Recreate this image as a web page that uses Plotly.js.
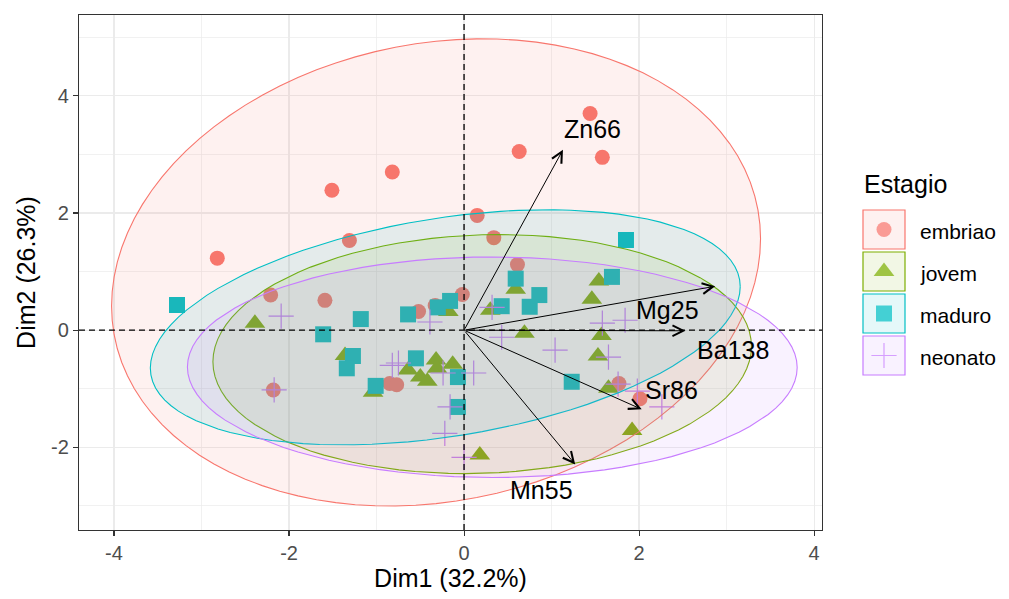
<!DOCTYPE html>
<html><head><meta charset="utf-8">
<script src="https://cdn.plot.ly/plotly-3.0.1.min.js"></script>
<style>body{margin:0;background:#fff}</style>
</head><body>
<div id="chart" style="width:1009px;height:599px"></div>
<script>
// ---------- data ----------
const groups = ['embriao', 'jovem', 'maduro', 'neonato'];
const groupColors = ['#F8766D', '#7CAE00', '#00BFC4', '#C77CFF'];
const groupFills = ['rgba(248,118,109,0.1)', 'rgba(124,174,0,0.1)', 'rgba(0,191,196,0.1)', 'rgba(199,124,255,0.1)'];
const groupSymbols = ['circle', 'triangle-up', 'square', 'cross-thin-open'];
const groupSizes = [15, 18, 16, 18];

const embriaoX = [1.44, 0.63, 1.58, -0.82, -1.51, -2.82, -1.31, 0.15, 0.34, 0.61, -0.02, -2.21, -2.18, -1.59, -0.52, -0.33, -0.85, -0.77, 1.77, 2.01];
const embriaoY = [3.70, 3.05, 2.95, 2.70, 2.39, 1.23, 1.53, 1.96, 1.58, 1.12, 0.61, 0.60, -1.02, 0.51, 0.32, 0.42, -0.91, -0.93, -0.91, -1.17];

const jovemX = [-2.39, -1.36, -1.04, -0.64, -0.50, -0.42, -0.32, -0.31, -0.13, -0.18, 0.30, 0.59, 0.69, 1.54, 1.46, 1.57, 1.53, 1.65, 1.92, 0.18];
const jovemY = [0.12, -0.43, -1.06, -0.68, -0.80, -0.87, -0.51, -0.65, -0.58, 0.32, 0.34, 0.70, -0.05, 0.84, 0.53, -0.09, -0.44, -0.99, -1.71, -2.13];

const maduroX = [-3.28, -1.61, -1.18, -1.27, -1.34, -1.01, -0.64, -0.55, -0.16, -0.30, -0.07, -0.07, 0.59, 0.43, 0.75, 0.86, 1.23, 1.85, 1.69];
const maduroY = [0.43, -0.07, 0.19, -0.44, -0.65, -0.95, 0.27, -0.48, 0.50, 0.39, -0.80, -1.31, 0.88, 0.41, 0.40, 0.60, -0.88, 1.54, 0.91];

const neonatoX = [-2.09, -2.17, -0.82, -0.75, -0.39, -0.24, -0.16, -0.22, 0.00, 0.11, 0.32, 0.43, 1.04, 1.58, 1.84, 1.65, 1.76, 1.98, 2.26];
const neonatoY = [0.24, -1.02, -0.60, -0.56, 0.14, -0.73, -1.31, -1.76, -2.17, -0.73, 0.39, -0.12, -0.34, 0.12, 0.17, -0.46, -0.92, -1.04, -1.31];

const varNames = ['Zn66', 'Mg25', 'Ba138', 'Sr86', 'Mn55'];
const varX = [1.13, 2.87, 2.53, 2.03, 1.27];
const varY = [3.08, 0.75, -0.01, -1.35, -2.29];
const varLabelX = [1.47, 2.32, 3.07, 2.37, 0.89];
const varLabelY = [3.43, 0.34, -0.33, -1.02, -2.72];

const xTickVals = [-4, -2, 0, 2, 4];
const xTickText = ['-4', '-2', '0', '2', '4'];
const yTickVals = [-2, 0, 2, 4];
const yTickText = ['-2', '0', '2', '4'];
const xMinorVals = [-3, -1, 1, 3];
const yMinorVals = [-3, -1, 1, 3, 5];

const xTitle = 'Dim1 (32.2%)';
const yTitle = 'Dim2 (26.3%)';
const legendTitle = 'Estagio';

const groupX = [embriaoX, jovemX, maduroX, neonatoX];
const groupY = [embriaoY, jovemY, maduroY, neonatoY];

// ---------- normal-theory 95% ellipse (as ggplot2 stat_ellipse type="norm") ----------
function qf2(p, d) { return (d / 2) * (Math.pow(1 - p, -2 / d) - 1); }
function ellipse(xs, ys, level, segs) {
  const n = xs.length;
  const mx = xs.reduce((a, b) => a + b, 0) / n;
  const my = ys.reduce((a, b) => a + b, 0) / n;
  let sxx = 0, syy = 0, sxy = 0;
  for (let i = 0; i < n; i++) {
    sxx += (xs[i] - mx) ** 2; syy += (ys[i] - my) ** 2; sxy += (xs[i] - mx) * (ys[i] - my);
  }
  sxx /= n - 1; syy /= n - 1; sxy /= n - 1;
  const a = Math.sqrt(sxx), b = sxy / a, c = Math.sqrt(syy - b * b);
  const r = Math.sqrt(2 * qf2(level, n - 1));
  const ex = [], ey = [];
  for (let k = 0; k <= segs; k++) {
    const t = 2 * Math.PI * k / segs;
    const u = Math.cos(t), v = Math.sin(t);
    ex.push(mx + r * u * a);
    ey.push(my + r * (u * b + v * c));
  }
  return [ex, ey];
}

const traces = [];
groups.forEach((g, i) => {
  const m = { color: groupColors[i], size: groupSizes[i], symbol: groupSymbols[i] };
  if (groupSymbols[i].includes('open')) m.line = { color: groupColors[i], width: 1.2 };
  else m.line = { width: 0 };
  traces.push({ type: 'scatter', mode: 'markers', x: groupX[i], y: groupY[i], name: g,
    marker: m, showlegend: false, hoverinfo: 'skip', cliponaxis: false });
});
groups.forEach((g, i) => {
  const [ex, ey] = ellipse(groupX[i], groupY[i], 0.95, 100);
  traces.push({ type: 'scatter', mode: 'lines', x: ex, y: ey, fill: 'toself',
    fillcolor: groupFills[i], line: { color: groupColors[i], width: 1.1 },
    showlegend: false, hoverinfo: 'skip' });
});

// ---------- legend (drawn on an overlay axis in pixel units) ----------
const legKeyX = 884;
const legKeyY = [229.5, 271.5, 313.5, 355.5];
traces.push({ type: 'scatter', mode: 'markers', xaxis: 'x2', yaxis: 'y2',
  x: legKeyY.map(() => legKeyX), y: legKeyY,
  marker: { color: groupColors, size: [15, 18, 16, 18], symbol: groupSymbols,
    line: { color: groupColors, width: [0, 0, 0, 1.2] } },
  showlegend: false, hoverinfo: 'skip', cliponaxis: false });

const shapes = [
  { type: 'line', xref: 'x', yref: 'y domain', x0: 0, x1: 0, y0: 0, y1: 1,
    line: { color: '#000', width: 1.3, dash: '6px,4px' }, layer: 'above' },
  { type: 'line', xref: 'x domain', yref: 'y', x0: 0, x1: 1, y0: 0, y1: 0,
    line: { color: '#000', width: 1.3, dash: '6px,4px' }, layer: 'above' }
];
legKeyY.forEach((yy, i) => {
  shapes.push({ type: 'rect', xref: 'x2', yref: 'y2', x0: legKeyX - 21, x1: legKeyX + 21,
    y0: yy - 19.5, y1: yy + 19.5, fillcolor: groupFills[i],
    line: { color: groupColors[i], width: 1.2 }, layer: 'below' });
});

const font = 'Liberation Sans, Arial, sans-serif';
const annotations = [];
varNames.forEach((nm, i) => {
  annotations.push({ xref: 'x', yref: 'y', axref: 'x', ayref: 'y', x: varX[i], y: varY[i], ax: 0, ay: 0,
    text: '', showarrow: true, arrowhead: 5, arrowsize: 2.1, arrowwidth: 1, arrowcolor: '#000', standoff: 0 });
  annotations.push({ xref: 'x', yref: 'y', x: varLabelX[i], y: varLabelY[i], text: nm, showarrow: false,
    font: { family: font, size: 25, color: '#000' }, xanchor: 'center', yanchor: 'middle' });
});
annotations.push({ xref: 'x2', yref: 'y2', x: 862, y: 184, text: legendTitle, showarrow: false,
  xanchor: 'left', yanchor: 'middle', font: { family: font, size: 25, color: '#000' } });
groups.forEach((g, i) => {
  annotations.push({ xref: 'x2', yref: 'y2', x: 918, y: legKeyY[i] + 2, text: g, showarrow: false,
    xanchor: 'left', yanchor: 'middle', font: { family: font, size: 21, color: '#000' } });
});

const W = 1009, H = 599;
const axisCommon = {
  showline: true, mirror: true, linecolor: '#333333', linewidth: 1.1,
  ticks: 'outside', ticklen: 5, tickcolor: '#333333', tickwidth: 1.1,
  showgrid: true, gridcolor: '#EBEBEB', gridwidth: 1.2, zeroline: false,
  tickmode: 'array', tickfont: { family: font, size: 20, color: '#4D4D4D' },
  automargin: false
};
const layout = {
  width: W, height: H, margin: { l: 0, r: 0, t: 0, b: 0 },
  paper_bgcolor: '#fff', plot_bgcolor: '#fff', showlegend: false,
  font: { family: font },
  xaxis: Object.assign({}, axisCommon, {
    domain: [79 / W, 822 / W], range: [-4.40, 4.09],
    tickvals: xTickVals, ticktext: xTickText,
    minor: { tickvals: xMinorVals, showgrid: true, gridcolor: '#EBEBEB', gridwidth: 0.7, ticks: '' },
    title: { text: xTitle, font: { family: font, size: 25, color: '#000' }, standoff: 6 }
  }),
  yaxis: Object.assign({}, axisCommon, {
    domain: [1 - 530 / H, 1 - 15 / H], range: [-3.41, 5.38],
    tickvals: yTickVals, ticktext: yTickText,
    minor: { tickvals: yMinorVals, showgrid: true, gridcolor: '#EBEBEB', gridwidth: 0.7, ticks: '' },
    title: { text: yTitle, font: { family: font, size: 25, color: '#000' }, standoff: 8 }
  }),
  xaxis2: { domain: [837.5 / W, 1], range: [837.5, 1009], visible: false, fixedrange: true, anchor: 'y2' },
  yaxis2: { domain: [0, 1], range: [599, 0], visible: false, fixedrange: true, anchor: 'x2' },
  shapes: shapes,
  annotations: annotations
};
Plotly.newPlot('chart', traces, layout, { displayModeBar: false, staticPlot: true });
</script>
</body></html>
